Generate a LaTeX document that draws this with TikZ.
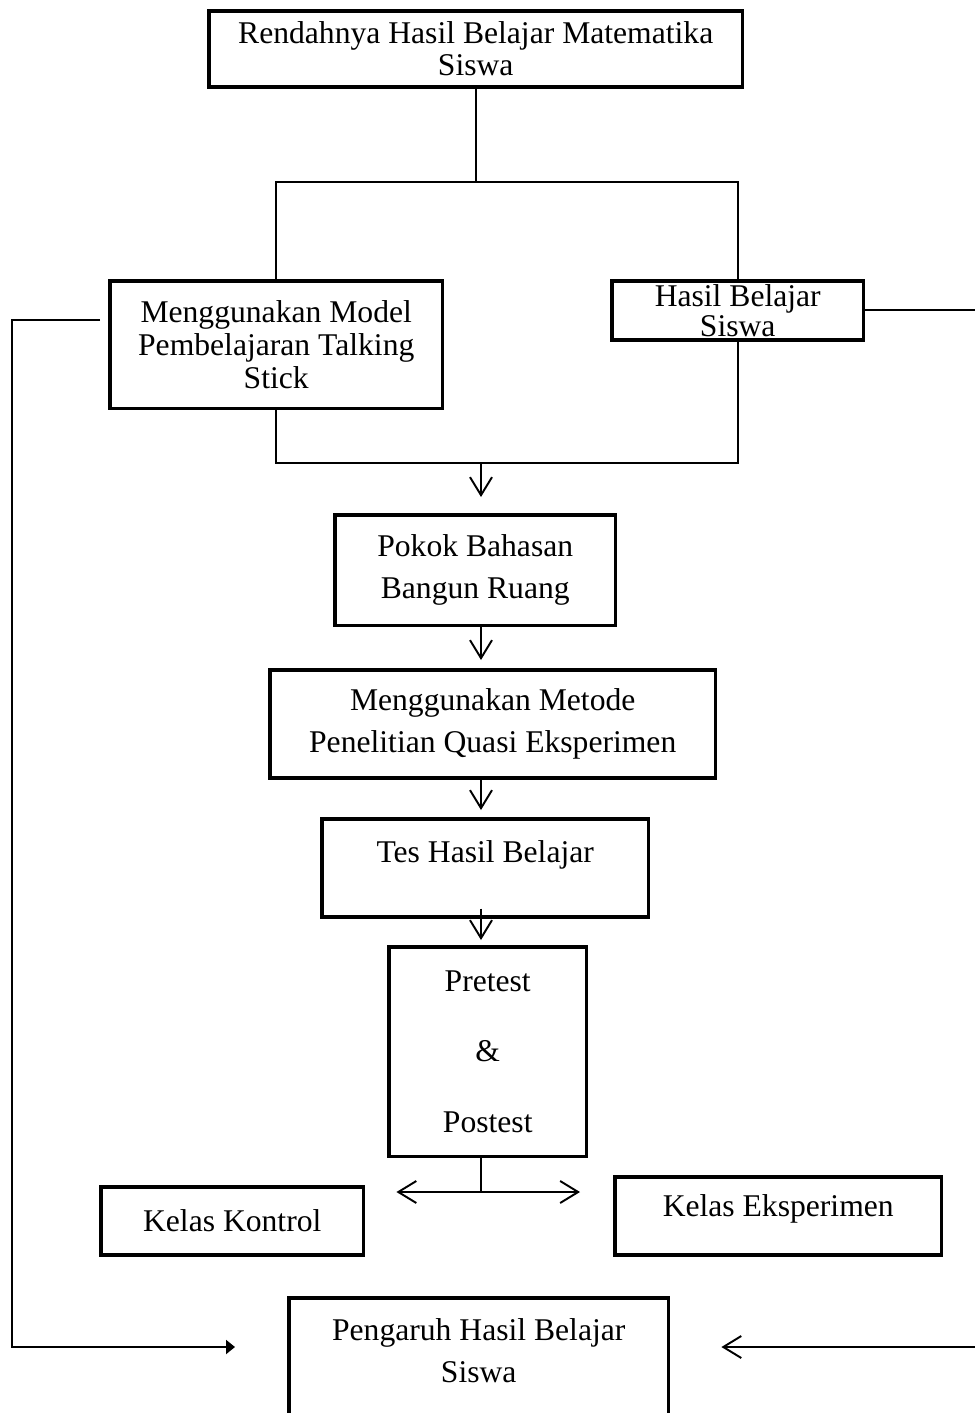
\documentclass[tikz,border=0pt]{standalone}
\usepackage{fontspec}
\setmainfont{Liberation Serif}
\usetikzlibrary{arrows.meta}

\begin{document}
\begin{tikzpicture}[x=0.02cm, y=-0.02cm,
kotak/.style={draw, line width=2pt, anchor=north west, align=center, inner sep=0pt, font=\fontsize{18}{24}\selectfont},
garis/.style={line width=1.1pt},
panah/.style={garis, -{Straight Barb[length=0.36cm, width=0.44cm]}},
panahdua/.style={garis, {Straight Barb[length=0.36cm, width=0.44cm]}-{Straight Barb[length=0.36cm, width=0.44cm]}},
panahpenuh/.style={garis, -{Triangle[length=0.18cm, width=0.28cm]}}]
\useasboundingbox (0,0) rectangle (974,1413);
\node[kotak, minimum width=10.68cm, minimum height=1.52cm, font=\fontsize{18}{18.2}\selectfont] (atas) at (207,9) {Rendahnya Hasil Belajar Matematika\\Siswa};
\node[kotak, minimum width=6.66cm, minimum height=2.56cm, font=\fontsize{18}{18.8}\selectfont] (model) at (108,279) {Menggunakan Model\\Pembelajaran Talking\\Stick};
\node[kotak, minimum width=5.04cm, minimum height=1.18cm, font=\fontsize{18}{17}\selectfont] (hasil) at (610,279) {Hasil Belajar\\Siswa};
\node[kotak, minimum width=5.62cm, minimum height=2.22cm] (pokok) at (333,513) {Pokok Bahasan\\Bangun Ruang};
\node[kotak, minimum width=8.92cm, minimum height=2.16cm] (metode) at (268,668) {Menggunakan Metode\\Penelitian Quasi Eksperimen};
\node[kotak, minimum width=6.54cm, text height=0.88cm, text depth=1.08cm] (tes) at (320,817) {Tes Hasil Belajar};
\node[kotak, minimum width=3.96cm, minimum height=4.2cm, font=\fontsize{18}{40}\selectfont] (pretest) at (387,945) {Pretest\\\&\\Postest};
\node[kotak, minimum width=5.26cm, minimum height=1.36cm] (kontrol) at (99,1185) {Kelas Kontrol};
\node[kotak, minimum width=6.54cm, minimum height=1.56cm, text depth=0.39cm] (eksperimen) at (613,1175) {Kelas Eksperimen};
\node[kotak, minimum width=7.6cm, text height=1.7cm, text depth=1.38cm] (pengaruh) at (287,1296) {Pengaruh Hasil Belajar\\Siswa};
\coordinate (cabang) at (atas.south |- 0,182);
\coordinate (gabung) at (481,463);
\coordinate (pisah) at (481,1192);
\coordinate (kiri) at (12,1347);
\coordinate (kanan) at (980,1347);
\draw[garis] (atas.south) -- (cabang);
\draw[garis] (model.north) |- (cabang) -| (hasil.north);
\draw[garis] (model.south) |- (gabung) -| (hasil.south);
\draw[panah, shorten >=0.32cm] (gabung) -- (gabung |- pokok.north);
\draw[panah, shorten >=0.16cm] (pokok.south -| gabung) -- (metode.north -| gabung);
\draw[panah, shorten >=0.14cm] (metode.south -| gabung) -- (tes.north -| gabung);
\draw[panah, shorten <=-0.2cm, shorten >=0.1cm] (tes.south -| gabung) -- (pretest.north -| gabung);
\draw[garis] (pretest.south -| pisah) -- (pisah);
\draw[panahdua, shorten <=0.62cm, shorten >=0.66cm] (kontrol.east |- pisah) -- (eksperimen.west |- pisah);
\draw[panahpenuh, shorten >=1.04cm] ([shift={(-8,-25)}]model.west) -| (kiri) -- (pengaruh.west |- kiri);
\draw[panah, shorten >=1.02cm] (hasil.east) -| (kanan) -- (pengaruh.east |- kanan);
\end{tikzpicture}
\end{document}
